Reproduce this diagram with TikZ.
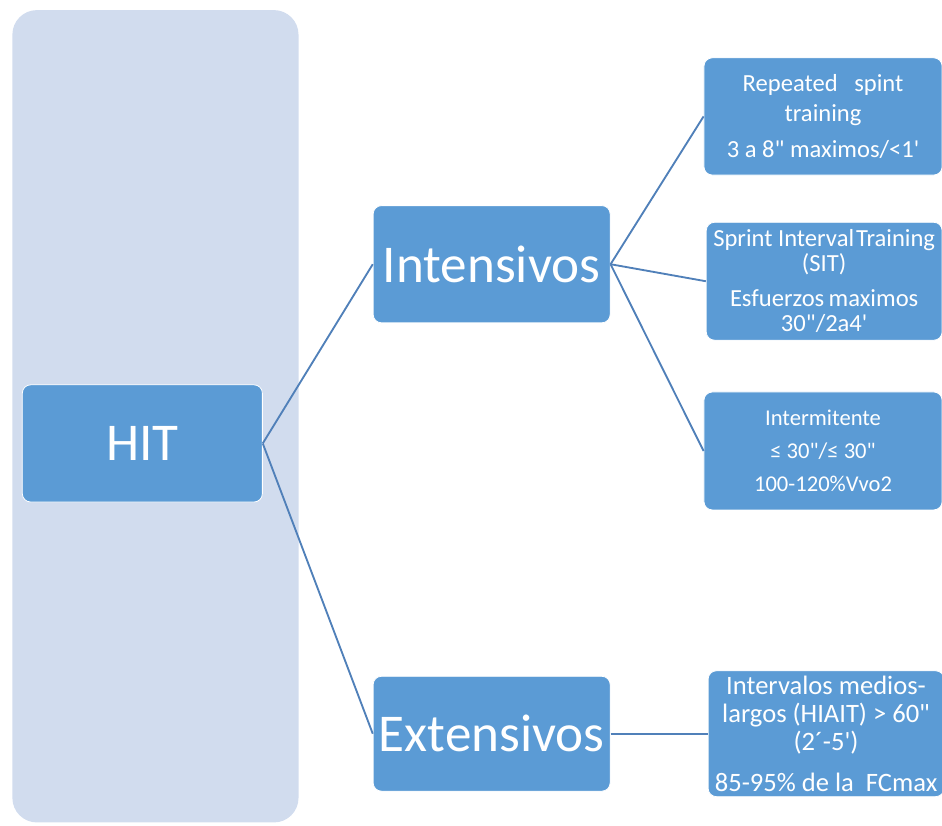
\documentclass[tikz,border=0pt]{standalone}
\usepackage{fontspec}
\setmainfont{Carlito}
\usetikzlibrary{positioning}
\definecolor{boxBg}{RGB}{91, 155, 213}
\definecolor{panelBg}{RGB}{209, 220, 238}
\definecolor{lineFg}{RGB}{80, 128, 185}
\tikzstyle{line} = [line width=1.4pt, draw=lineFg]
\tikzstyle{basic} = [rectangle, rounded corners=2.2mm, draw=white, line width=0.6pt, fill=boxBg, text=white, align=center, inner sep=0pt]
\tikzstyle{bigbox} = [basic, minimum width=62.7mm, minimum height=31mm, font=\fontsize{40}{48}\selectfont]
\tikzstyle{smallbox} = [basic, minimum width=63mm, minimum height=31.2mm]

\begin{document}
\begin{tikzpicture}
\useasboundingbox (0,0) rectangle (249.2mm,-218.3mm);

\node (panel) [rectangle, rounded corners=6.5mm, fill=panelBg, minimum width=75.7mm, minimum height=214.9mm, anchor=north west] at (3.2mm,-2.6mm) {};

\node (hit) [bigbox, minimum width=63.5mm, anchor=west] at (5.8mm,-117.3mm) {HIT};
\node (intens) [bigbox, anchor=west, xshift=29.1mm, yshift=47.4mm] at(hit.east) {Intensivos};
\node (extens) [bigbox, minimum height=30.4mm, anchor=west, xshift=29.1mm, yshift=-76.8mm] at(hit.east) {Extensivos};
\draw [line] (hit.east) -- (intens.west);
\draw [line] (hit.east) -- (extens.west);

\node (rst) [smallbox, minimum height=31mm, anchor=west, xshift=24.6mm, yshift=39.1mm, font=\fontsize{18.5}{22.5}\selectfont] at(intens.east) {Repeated\ \ \ spint\\training\\[5pt]3 a 8\textquotedbl{} maximos/<1\textquotesingle};
\node (sit) [smallbox, minimum width=62.4mm, anchor=west, xshift=25.2mm, yshift=-4.5mm, font=\fontsize{18.5}{19}\selectfont] at(intens.east) {Sprint Interval\hspace{0.08em}Training\\(SIT)\\[7pt]Esfuerzos\hspace{-0.05em} maximos\\30\textquotedbl/2a4\textquotesingle};
\node (interm) [smallbox, anchor=west, xshift=24.6mm, yshift=-49.4mm, font=\fontsize{17}{25}\selectfont] at(intens.east) {Intermitente\\≤ 30\textquotedbl/≤ 30\textquotedbl\\100-120\%Vvo2};
\draw [line] (intens.east) -- (rst.west);
\draw [line] (intens.east) -- (sit.west);
\draw [line] (intens.east) -- (interm.west);

\node (hiait) [smallbox, minimum width=62.4mm, minimum height=33.3mm, anchor=west, xshift=25.7mm, font=\fontsize{20}{21}\selectfont] at(extens.east) {Intervalos medios-\\largos (HIAIT) > 60\textquotedbl\\(2´-5\textquotesingle)\\[10pt]85-95\% de la\ \ FCmax};
\draw [line] (extens.east) -- (hiait.west);

\end{tikzpicture}
\end{document}
